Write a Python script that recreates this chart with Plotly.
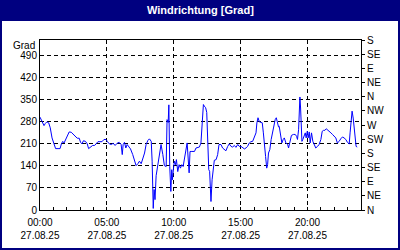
import pandas as pd
import plotly.graph_objects as go

day = "2025-08-27"

# minutes after midnight of each sample
minutes = [
    0, 9, 18, 24, 31, 39, 46, 54, 63, 70, 81, 90, 96, 102, 108, 113, 122, 131, 140, 149,
    158, 167, 176, 182, 188, 195, 204, 212, 218, 227, 236, 245, 254, 260, 269, 278, 287, 296, 302, 311,
    320, 328, 337, 346, 355,
    364, 369, 373, 379, 385, 391, 399, 406, 416, 424, 431, 439, 446, 454, 461, 469, 476, 484, 491, 499,
    503, 508, 512, 516, 521, 528, 536, 543, 551, 558, 566, 570, 575, 578, 582, 587, 591, 594, 599, 603,
    608, 612, 618, 624, 630, 636, 642, 648, 655, 660, 669, 673, 678, 685, 693, 700, 708, 715,
    722, 727, 733, 737, 743, 748, 752, 757, 761, 764, 767, 772, 776, 782, 790, 797, 803, 812, 819, 827,
    834, 842, 849, 857, 864, 872, 879, 887, 894, 902, 909, 917, 924, 931, 939, 946, 954, 961, 969, 973,
    978, 984, 991, 997, 1002, 1006, 1012, 1017, 1021, 1025, 1031, 1037, 1043, 1049, 1055, 1060, 1064, 1070,
    1073, 1081, 1085, 1091, 1096, 1103, 1111, 1115, 1122, 1128, 1137, 1145, 1151, 1155, 1160, 1163, 1166, 1169, 1172, 1175,
    1179, 1185, 1190, 1194, 1199, 1203, 1208, 1212, 1218, 1224, 1230, 1237, 1245, 1252, 1260, 1266, 1272, 1278, 1284, 1290,
    1297, 1305, 1312, 1320, 1327, 1334, 1342, 1349, 1357, 1364, 1372, 1379, 1387, 1391, 1396, 1400, 1405, 1409, 1414, 1418,
    1423,
]

# wind direction in degrees
degrees = [
    295, 282, 268, 275, 280, 277, 261, 229, 208, 195, 195, 195, 210, 218, 213, 220, 236, 248, 247, 241,
    234, 228, 228, 215, 210, 220, 218, 210, 195, 200, 205, 205, 213, 217, 217, 217, 224, 224, 218, 210,
    208, 212, 205, 212, 215,
    208, 176, 208, 215, 197, 208, 202, 194, 176, 157, 141, 147, 155, 147, 160, 181, 208, 221, 226, 218,
    155, 5, 65, 33, 109, 144, 176, 208, 176, 141, 138, 287, 278, 334, 138, 59, 128, 96, 133, 155,
    144, 160, 122, 144, 133, 144, 138, 160, 192, 213, 118, 186, 186, 186, 186, 197, 200, 200,
    213, 287, 335, 330, 325, 310, 245, 128, 123, 65, 27, 96, 128, 158, 160, 176, 208, 208, 197, 192,
    188, 202, 210, 202, 200, 205, 199, 208, 202, 202, 197, 194, 197, 202, 213, 217, 218, 229, 245, 277,
    293, 280, 277, 277, 245, 202, 170, 133, 144, 181, 192, 224, 245, 277, 287, 293, 280, 264,
    266, 234, 213, 224, 229, 213, 208, 197, 224, 237, 240, 240, 234, 224, 255, 324, 359, 324, 277, 218,
    224, 234, 245, 229, 250, 229, 248, 213, 245, 218, 208, 197, 202, 208, 224, 250, 253, 253, 258, 255,
    250, 245, 240, 234, 229, 213, 218, 226, 232, 229, 224, 215, 210, 245, 298, 314, 292, 266, 213, 202,
    200,
]

left_ticks = [0, 70, 140, 210, 280, 350, 420, 490]
right_ticks = [0, 45, 90, 135, 180, 225, 270, 315, 360, 405, 450, 495, 540]
right_labels = ["N", "NE", "E", "SE", "S", "SW", "W", "NW", "N", "NE", "E", "SE", "S"]
title_text = "Windrichtung [Grad]"
unit_text = "Grad"

NAVY = "#000080"
FONT = "Liberation Sans, Arial, sans-serif"

start = pd.Timestamp(day)
end = start + pd.Timedelta(days=1)
times = start + pd.to_timedelta(minutes, unit="min")

fig = go.Figure()
fig.add_trace(go.Scatter(x=times, y=degrees, mode="lines",
                         line=dict(color="#0000ff", width=1), showlegend=False, hoverinfo="skip"))
fig.add_trace(go.Scatter(x=[times[0]], y=[None], yaxis="y2", mode="lines",
                         showlegend=False, hoverinfo="skip"))

L, R, T, B = 40, 39, 40, 40
W, H = 400 - L - R, 250 - T - B


def px(x):
    return (x - L) / W


def py(y):
    return (250 - B - y) / H


grid = dict(showgrid=True, gridcolor="black", gridwidth=1, griddash="4px,3px")

fig.update_layout(
    width=400, height=250,
    margin=dict(l=L, r=R, t=T, b=B, pad=0, autoexpand=False),
    paper_bgcolor="white", plot_bgcolor="white",
    font=dict(family=FONT, size=10, color="black"),
    showlegend=False,
    xaxis=dict(
        type="date", range=[start, end], automargin=False,
        tick0=start, dtick=5 * 3600000, tickformat="%H:%M<br>%d.%m.%y",
        ticks="inside", ticklen=3, tickcolor="black", ticklabelstandoff=3,
        minor=dict(dtick=3600000, ticks="inside", ticklen=3, tickcolor="black", showgrid=False),
        showline=True, linecolor="black", linewidth=1, mirror=True,
        zeroline=False, tickfont=dict(size=10, color="black"),
        **grid,
    ),
    yaxis=dict(
        range=[0, 540], tickmode="array", tickvals=left_ticks, automargin=False,
        ticks="", showline=True, linecolor="black", linewidth=1,
        zeroline=False, tickfont=dict(size=10, color="black"),
        **grid,
    ),
    yaxis2=dict(
        overlaying="y", side="right", range=[0, 540], automargin=False,
        tickmode="array", tickvals=right_ticks, ticktext=right_labels,
        ticks="outside", ticklen=3, tickcolor="black",
        showline=True, linecolor="black", linewidth=1,
        showgrid=False, zeroline=False, tickfont=dict(size=10, color="black"),
    ),
    shapes=[
        dict(type="rect", xref="paper", yref="paper", layer="above",
             x0=px(0), x1=px(400), y0=py(21), y1=py(0),
             fillcolor=NAVY, line=dict(width=0)),
        dict(type="rect", xref="paper", yref="paper", layer="above",
             x0=px(1), x1=px(399), y0=py(249), y1=py(1),
             line=dict(color=NAVY, width=2)),
    ],
    annotations=[
        dict(text="<b>" + title_text + "</b>", xref="paper", yref="paper",
             x=px(200), y=py(10), xanchor="center", yanchor="middle", showarrow=False,
             font=dict(family=FONT, size=11, color="white")),
        dict(text=unit_text, xref="paper", yref="paper",
             x=px(37), y=py(45), xanchor="right", yanchor="middle", showarrow=False,
             font=dict(family=FONT, size=10, color="black")),
    ],
)

fig.write_html("out.html")
